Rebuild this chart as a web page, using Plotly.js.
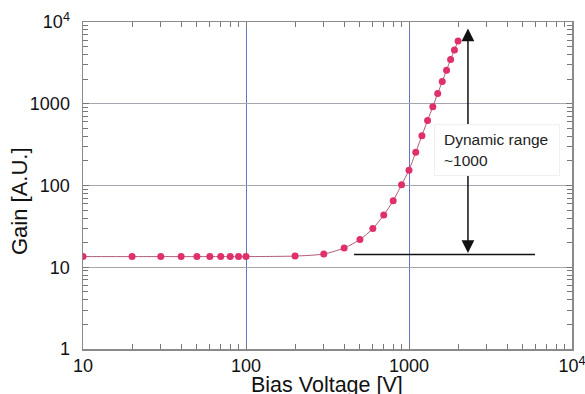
<!DOCTYPE html>
<html>
<head>
<meta charset="utf-8">
<script src="https://cdn.plot.ly/plotly-3.0.1.min.js"></script>
<style>html,body{margin:0;padding:0;background:#fff}#chart{width:585px;height:394px}</style>
</head>
<body>
<div id="chart"></div>
<script>
// Data
var voltage = [10,20,30,40,50,60,70,80,90,100,200,300,400,500,600,700,800,900,1000,1100,1200,1300,1400,1500,1600,1700,1800,1900,2000];
var gain = [13.5,13.5,13.5,13.5,13.5,13.5,13.5,13.5,13.5,13.5,13.7,14.5,17.2,21.8,29.7,43.5,65,102,154,255,407,625,919,1336,1872,2576,3470,4560,5860];

var xTickVals = [10,100,1000,10000];
var xTickText = ["10","100","1000","10<sup>4</sup>"];
var yTickVals = [1,10,100,1000,10000];
var yTickText = ["1","10","100","1000","10<sup>4</sup>"];

// Dynamic range marker
var rangeLineX = [460, 5930];
var rangeLineY = [14.3, 14.3];
var arrowX = 2300;
var arrowTop = 8300;
var arrowBottom = 14.3;
var rangeLabel = "Dynamic range<br>~1000";

var FONT = "'Liberation Sans', Arial, Helvetica, sans-serif";

var traces = [
  {
    x: voltage, y: gain, type: "scatter", mode: "lines+markers",
    line: {color: "#b05a78", width: 1, shape: "spline", smoothing: 0.6},
    marker: {color: "#e0306a", size: 7},
    hoverinfo: "none"
  },
  {
    x: rangeLineX, y: rangeLineY, type: "scatter", mode: "lines",
    line: {color: "#111", width: 1.5},
    hoverinfo: "none"
  }
];

var axisCommon = {
  type: "log",
  showline: true, linecolor: "#8a8a8a", linewidth: 1.5, mirror: "allticks",
  ticks: "inside", ticklen: 6, tickcolor: "#777", tickwidth: 1,
  tickfont: {family: FONT, size: 18, color: "#111"},
  ticklabeloverflow: "allow",
  zeroline: false,
  showgrid: true,
  minor: {ticks: "inside", ticklen: 5, tickcolor: "#777", dtick: "D1", showgrid: false}
};

var layout = {
  width: 585, height: 394,
  margin: {l: 83, r: 13, t: 22, b: 45},
  paper_bgcolor: "#fff", plot_bgcolor: "#fff",
  showlegend: false,
  font: {family: FONT},
  xaxis: Object.assign({}, axisCommon, {
    range: [1, 4], tickmode: "array", tickvals: xTickVals, ticktext: xTickText,
    gridcolor: "#6674c8", gridwidth: 1, ticklabelstandoff: 0
  }),
  yaxis: Object.assign({}, axisCommon, {
    range: [0, 4], tickmode: "array", tickvals: yTickVals, ticktext: yTickText,
    gridcolor: "#a6a6b0", gridwidth: 1.3, ticklabelstandoff: 8
  }),
  annotations: [
    {
      xref: "x", yref: "y", axref: "x", ayref: "y",
      x: Math.log10(arrowX), y: Math.log10(arrowTop),
      ax: Math.log10(arrowX), ay: Math.log10(arrowBottom),
      text: "", showarrow: true, arrowside: "end+start",
      arrowhead: 2, startarrowhead: 2, arrowsize: 1.7, startarrowsize: 1.7,
      arrowwidth: 1.5, arrowcolor: "#111", standoff: 0, startstandoff: 0
    },
    {
      xref: "paper", yref: "paper", x: 0.7178, y: 0.6086,
      xanchor: "left", yanchor: "middle",
      text: rangeLabel, showarrow: false, align: "left",
      width: 106, height: 32, borderpad: 9,
      bgcolor: "#fff", bordercolor: "#f0f0f0", borderwidth: 1,
      font: {family: FONT, size: 15.5, color: "#222"}
    },
    {
      xref: "paper", yref: "paper", x: -0.1288, y: 0.4526,
      xanchor: "center", yanchor: "middle", textangle: -90,
      text: "Gain [A.U.]", showarrow: false,
      font: {family: FONT, size: 22, color: "#111"}
    },
    {
      xref: "paper", yref: "paper", x: 0.4990, y: -0.110,
      xanchor: "center", yanchor: "middle",
      text: "Bias Voltage [V]", showarrow: false,
      font: {family: FONT, size: 21.5, color: "#111"}
    }
  ]
};

Plotly.newPlot("chart", traces, layout, {staticPlot: true, displayModeBar: false});
</script>
</body>
</html>
